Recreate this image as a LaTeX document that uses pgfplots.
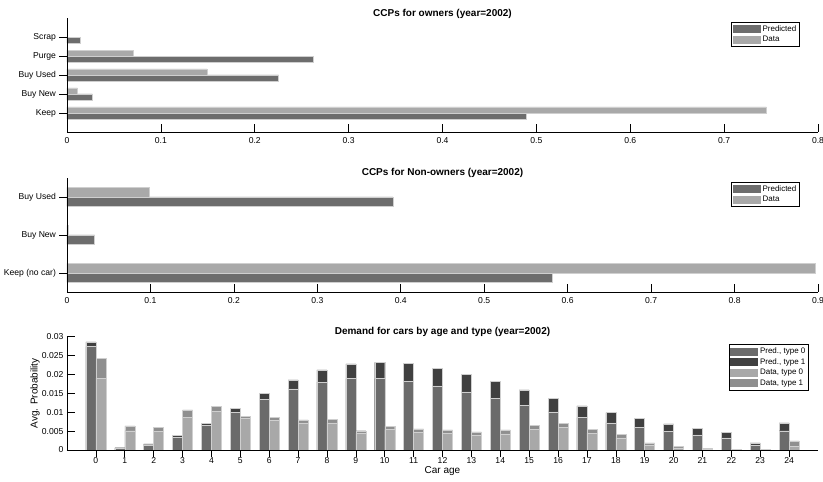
\documentclass[border=0pt]{standalone}
\usepackage{fontspec}
\setmainfont{Liberation Sans}
\usepackage{pgfplots}
\pgfplotsset{compat=1.18}
\usepackage{pgfplotstable}

\definecolor{pred}{HTML}{6D6D6D}
\definecolor{dat}{HTML}{A9A9A9}
\definecolor{pzero}{HTML}{6B6B6B}
\definecolor{pone}{HTML}{404040}
\definecolor{dzero}{HTML}{A8A8A8}
\definecolor{done}{HTML}{8F8F8F}
\definecolor{edge}{HTML}{CFCFCF}

\pgfplotstableread{
age p0 p1 d0 d1
0 0.0274 0.0012 0.0190 0.0052
1 0.0004 0.0002 0.0051 0.0013
2 0.0014 0.0002 0.0049 0.0011
3 0.0034 0.0005 0.0087 0.0019
4 0.0065 0.0006 0.0102 0.0013
5 0.0099 0.0011 0.0083 0.0006
6 0.0134 0.0016 0.0078 0.0008
7 0.0162 0.0024 0.0072 0.0008
8 0.0180 0.0032 0.0072 0.0010
9 0.0189 0.0039 0.0044 0.0007
10 0.0189 0.0043 0.0054 0.0009
11 0.0182 0.0047 0.0047 0.0009
12 0.0170 0.0047 0.0044 0.0009
13 0.0154 0.0046 0.0038 0.0010
14 0.0136 0.0045 0.0043 0.0010
15 0.0118 0.0041 0.0055 0.0011
16 0.0101 0.0036 0.0060 0.0011
17 0.0086 0.0031 0.0045 0.0010
18 0.0072 0.0027 0.0032 0.0009
19 0.0060 0.0023 0.0012 0.0007
20 0.0049 0.0020 0.0006 0.0003
21 0.0040 0.0017 0.0003 0.0002
22 0.0032 0.0014 0.0001 0.0001
23 0.0013 0.0006 0.0001 0.0001
24 0.0051 0.0021 0.0009 0.0015
}\demand

\pgfplotsset{
  sw/.style={legend image code/.code={\fill[#1] (0pt,-3.6pt) rectangle (27pt,3.6pt);}},
  myaxis/.style={
    scale only axis, width=751pt,
    axis lines=left, axis line style={-, line width=0.8pt, black},
    tick align=inside, major tick length=7.5pt,
    tick style={line width=0.6pt, black},
    tick label style={font=\fontsize{8.6}{10}\selectfont},
    /pgf/number format/assume math mode=true,
    title style={font=\bfseries\fontsize{10}{12}\selectfont, at={(0.5,1)}, anchor=base, yshift=-4pt},
    legend style={font=\fontsize{8}{9.6}\selectfont, draw=black, line width=0.8pt,
      inner sep=1.2pt, row sep=-0.6pt, anchor=north east, fill=white},
    legend cell align=left,
    axis on top,
  },
}

\begin{document}
\begin{tikzpicture}
\useasboundingbox (0pt,0pt) rectangle (823pt,482pt);

% Panel 1
\begin{axis}[myaxis, at={(67pt,350pt)}, anchor=south west, height=114pt,
  xbar, bar width=6pt, xmin=0, xmax=0.8, ymin=0, ymax=6,
  xticklabel style={anchor=base, yshift=-12pt},
  xtick={0,0.1,0.2,0.3,0.4,0.5,0.6,0.7,0.8},
  ytick={1,2,3,4,5}, yticklabels={Keep,Buy New,Buy Used,Purge,Scrap},
  title={CCPs for owners (year=2002)},
  legend style={at={(0.976,0.967)}}]
\addplot[forget plot, fill=pred, draw=edge, line width=0.5pt, bar shift=-3pt]
  coordinates {(0.489,1) (0.027,2) (0.2255,3) (0.262,4) (0.0145,5)};
\addplot[forget plot, fill=dat, draw=edge, line width=0.5pt, bar shift=3pt]
  coordinates {(0.745,1) (0.011,2) (0.149,3) (0.071,4)};
\addlegendimage{sw=pred}\addlegendentry{Predicted}
\addlegendimage{sw=dat}\addlegendentry{Data}
\end{axis}

% Panel 2
\begin{axis}[myaxis, at={(67pt,190pt)}, anchor=south west, height=114pt,
  xbar, bar width=9.5pt, xmin=0, xmax=0.9, ymin=0.5, ymax=3.5,
  xticklabel style={anchor=base, yshift=-12pt},
  xtick={0,0.1,0.2,0.3,0.4,0.5,0.6,0.7,0.8,0.9},
  ytick={1,2,3}, yticklabels={Keep (no car),Buy New,Buy Used},
  title={CCPs for Non-owners (year=2002)},
  legend style={at={(0.976,0.967)}}]
\addplot[forget plot, fill=pred, draw=edge, line width=0.5pt, bar shift=-4.75pt]
  coordinates {(0.582,1) (0.033,2) (0.3905,3)};
\addplot[forget plot, fill=dat, draw=edge, line width=0.5pt, bar shift=4.75pt]
  coordinates {(0.897,1) (0.002,2) (0.098,3)};
\addlegendimage{sw=pred}\addlegendentry{Predicted}
\addlegendimage{sw=dat}\addlegendentry{Data}
\end{axis}

% Panel 3
\begin{axis}[myaxis, at={(67pt,32pt)}, anchor=south west, height=113.3pt,
  ybar, bar width=10pt, xmin=-1, xmax=25, ymin=0, ymax=0.03,
  xticklabel style={anchor=base, yshift=-6pt},
  xtick={0,1,...,24},
  ytick={0,0.005,0.01,0.015,0.02,0.025,0.03},
  scaled y ticks=false,
  yticklabel style={/pgf/number format/.cd, fixed, precision=3},
  title={Demand for cars by age and type (year=2002)},
  xlabel={Car age}, ylabel={Avg. Probability},
  xlabel style={font=\fontsize{10}{12}\selectfont, at={(axis description cs:0.5,0)}, anchor=base, yshift=-24pt},
  ylabel style={font=\fontsize{10}{12}\selectfont, at={(axis description cs:-0.0426,0.5)}, anchor=center},
  legend style={at={(0.988,0.933)}}]
\addplot[forget plot, fill=pone, draw=edge, line width=0.4pt, bar shift=-5pt]
  table[x=age, y expr=\thisrow{p0}+\thisrow{p1}] {\demand};
\addplot[forget plot, fill=pzero, draw=edge, line width=0.4pt, bar shift=-5pt]
  table[x=age, y=p0] {\demand};
\addplot[forget plot, fill=done, draw=edge, line width=0.4pt, bar shift=5pt]
  table[x=age, y expr=\thisrow{d0}+\thisrow{d1}] {\demand};
\addplot[forget plot, fill=dzero, draw=edge, line width=0.4pt, bar shift=5pt]
  table[x=age, y=d0] {\demand};
\addlegendimage{sw=pzero}\addlegendentry{Pred., type 0}
\addlegendimage{sw=pone}\addlegendentry{Pred., type 1}
\addlegendimage{sw=dzero}\addlegendentry{Data, type 0}
\addlegendimage{sw=done}\addlegendentry{Data, type 1}
\end{axis}
\end{tikzpicture}
\end{document}
